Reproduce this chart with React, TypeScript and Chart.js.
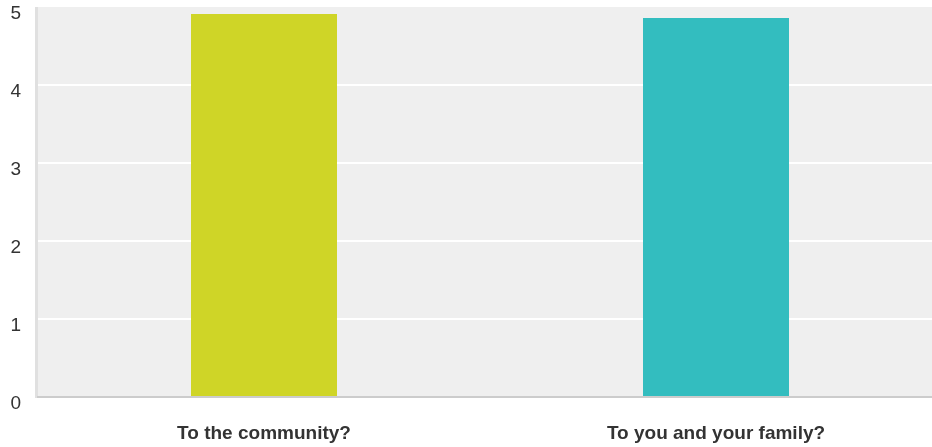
import React, { useEffect, useRef } from "react";
import { Chart, registerables } from "chart.js";

Chart.register(...registerables);

const categories = ["To the community?", "To you and your family?"];
const values = [4.91, 4.86];
const barColors = ["#cfd527", "#33bdbf"];
const yTicks = [0, 1, 2, 3, 4, 5];

const bgPlugin = {
  id: "plotBg",
  beforeDraw(chart: any) {
    const { ctx, chartArea } = chart;
    const { left, top, right, bottom } = chartArea;
    ctx.save();
    ctx.fillStyle = "#efefef";
    ctx.fillRect(left - 3, top, right - left + 3, bottom - top);
    ctx.fillStyle = "#e0e0e0";
    ctx.fillRect(left - 3, top, 3, bottom - top + 1);
    ctx.fillStyle = "#cccccc";
    ctx.fillRect(left - 1, bottom - 1, right - left + 1, 2);
    ctx.restore();
  },
};

export default function App() {
  const ref = useRef<HTMLCanvasElement | null>(null);
  useEffect(() => {
    if (!ref.current) return;
    const chart = new Chart(ref.current, {
      type: "bar",
      data: {
        labels: categories,
        datasets: [
          {
            data: values,
            backgroundColor: barColors,
            barPercentage: 0.323,
            categoryPercentage: 1,
          },
        ],
      },
      plugins: [bgPlugin],
      options: {
        responsive: false,
        animation: false,
        layout: { padding: { top: 7, left: 0, right: 0, bottom: 0 } },
        plugins: { legend: { display: false }, tooltip: { enabled: false } },
        scales: {
          x: {
            grid: { display: false, drawTicks: false },
            border: { display: false },
            ticks: {
              color: "#333333",
              font: { family: "Liberation Sans, Arial, sans-serif", size: 19, weight: "bold" },
              padding: 25,
              maxRotation: 0,
            },
            afterFit(scale: any) {
              scale.height = 50;
              scale.paddingLeft = 0;
              scale.paddingRight = 0;
            },
          },
          y: {
            min: 0,
            max: 5,
            afterBuildTicks(scale: any) {
              scale.ticks = yTicks.map((v) => ({ value: v }));
            },
            grid: {
              color: (c: any) => (c.tick && (c.tick.value === 0 || c.tick.value === 5) ? "rgba(0,0,0,0)" : "#ffffff"),
              lineWidth: 2,
              drawTicks: false,
            },
            border: { display: false },
            ticks: {
              color: "#333333",
              font: { family: "Liberation Sans, Arial, sans-serif", size: 19 },
              padding: 17,
              labelOffset: 7,
            },
            afterFit(scale: any) {
              scale.width = 38;
              scale.paddingTop = 0;
              scale.paddingBottom = 0;
            },
          },
        },
      },
    });
    return () => chart.destroy();
  }, []);
  return (
    <div style={{ position: "fixed", left: 0, top: 0, width: 942, height: 447 }}>
      <canvas ref={ref} width={942} height={447} style={{ width: 942, height: 447, display: "block" }} />
    </div>
  );
}
